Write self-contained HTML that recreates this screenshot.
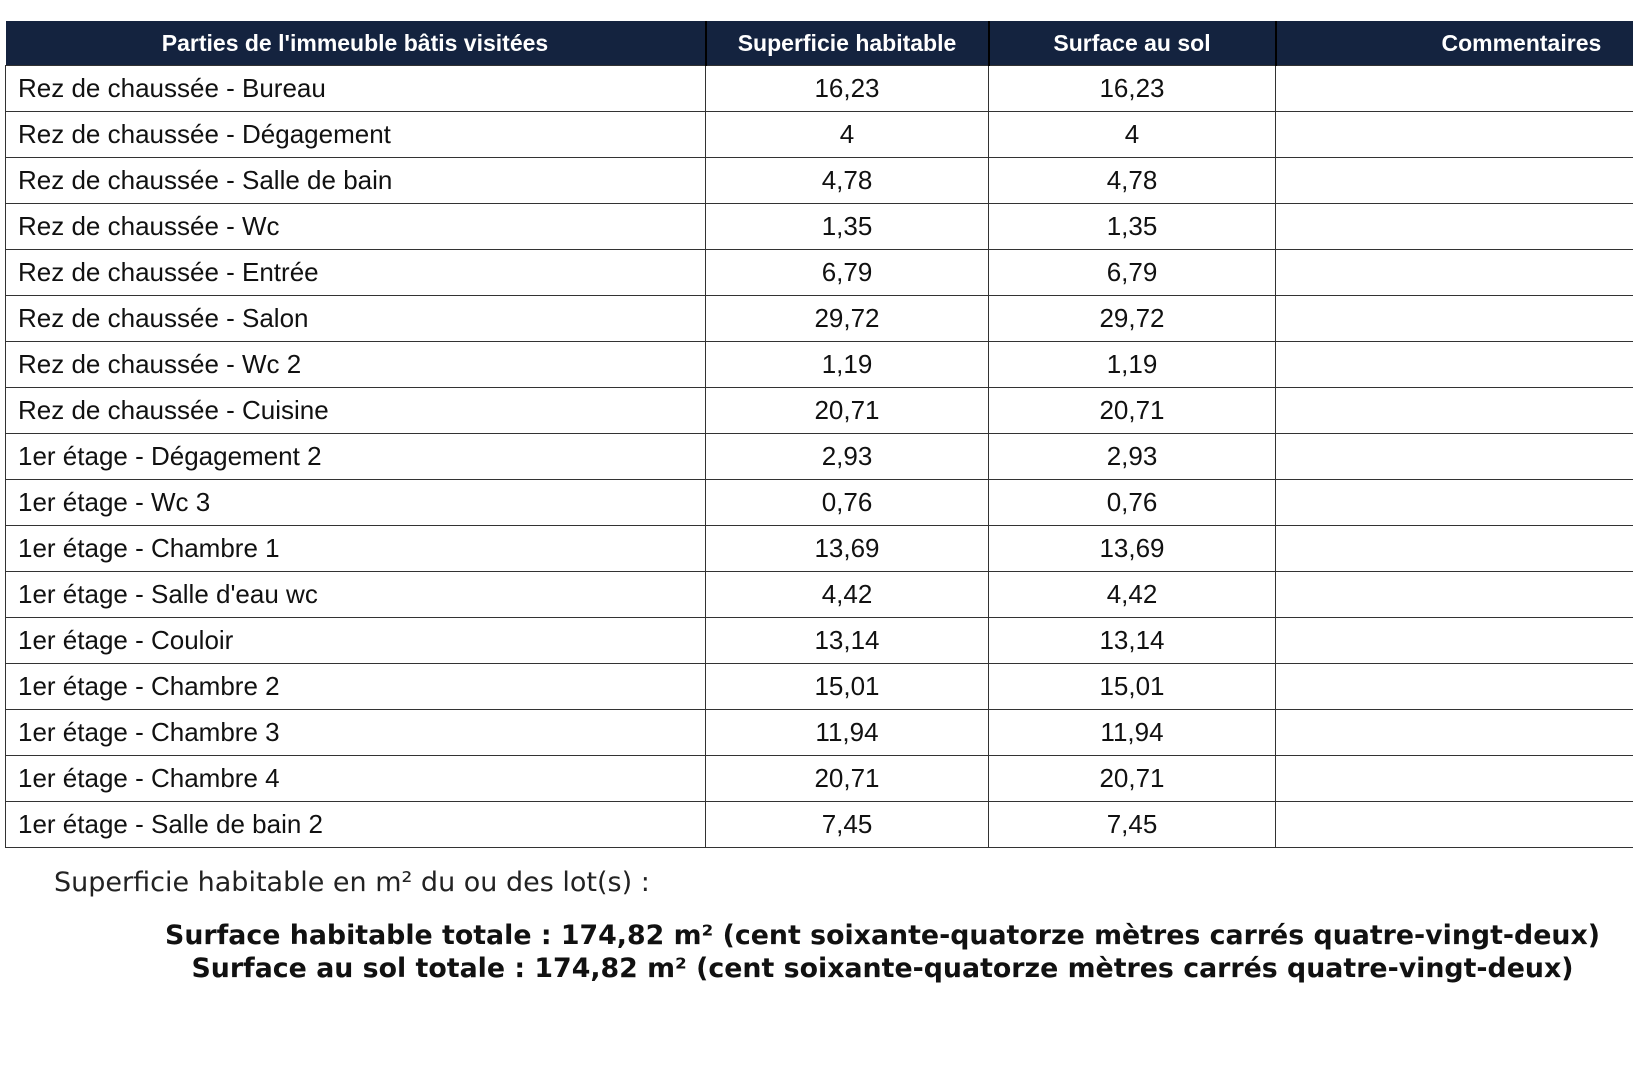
<!DOCTYPE html>
<html><head><meta charset="utf-8"><style>
body{margin:0;background:#fff;width:1633px;height:1080px;overflow:hidden;position:relative;font-family:"Liberation Sans",sans-serif;}
table{position:absolute;left:5px;top:21px;border-collapse:collapse;width:1700px;table-layout:fixed;}
th{background:#14233f;color:#fff;font-weight:bold;font-size:23px;height:44px;padding:0;border-right:2px solid #000;}
td{border:1.5px solid #333;height:45px;padding:0;font-size:26px;color:#111;}
td.l{padding-left:12px;}
td.c{text-align:center;}
.t1{position:absolute;left:54px;top:867px;font-family:"DejaVu Sans",sans-serif;font-size:27px;color:#222;}
.b{position:absolute;left:66px;width:1633px;text-align:center;font-family:"DejaVu Sans",sans-serif;font-weight:bold;font-size:26.8px;color:#111;}
</style></head><body>
<table>
<colgroup><col style="width:700px"><col style="width:283px"><col style="width:287px"><col style="width:430px"></colgroup>
<tr><th>Parties de l'immeuble bâtis visitées</th><th>Superficie habitable</th><th>Surface au sol</th><th style="text-align:left;padding-left:165px">Commentaires</th></tr>
<tr><td class="l">Rez de chaussée - Bureau</td><td class="c">16,23</td><td class="c">16,23</td><td></td></tr>
<tr><td class="l">Rez de chaussée - Dégagement</td><td class="c">4</td><td class="c">4</td><td></td></tr>
<tr><td class="l">Rez de chaussée - Salle de bain</td><td class="c">4,78</td><td class="c">4,78</td><td></td></tr>
<tr><td class="l">Rez de chaussée - Wc</td><td class="c">1,35</td><td class="c">1,35</td><td></td></tr>
<tr><td class="l">Rez de chaussée - Entrée</td><td class="c">6,79</td><td class="c">6,79</td><td></td></tr>
<tr><td class="l">Rez de chaussée - Salon</td><td class="c">29,72</td><td class="c">29,72</td><td></td></tr>
<tr><td class="l">Rez de chaussée - Wc 2</td><td class="c">1,19</td><td class="c">1,19</td><td></td></tr>
<tr><td class="l">Rez de chaussée - Cuisine</td><td class="c">20,71</td><td class="c">20,71</td><td></td></tr>
<tr><td class="l">1er étage - Dégagement 2</td><td class="c">2,93</td><td class="c">2,93</td><td></td></tr>
<tr><td class="l">1er étage - Wc 3</td><td class="c">0,76</td><td class="c">0,76</td><td></td></tr>
<tr><td class="l">1er étage - Chambre 1</td><td class="c">13,69</td><td class="c">13,69</td><td></td></tr>
<tr><td class="l">1er étage - Salle d'eau wc</td><td class="c">4,42</td><td class="c">4,42</td><td></td></tr>
<tr><td class="l">1er étage - Couloir</td><td class="c">13,14</td><td class="c">13,14</td><td></td></tr>
<tr><td class="l">1er étage - Chambre 2</td><td class="c">15,01</td><td class="c">15,01</td><td></td></tr>
<tr><td class="l">1er étage - Chambre 3</td><td class="c">11,94</td><td class="c">11,94</td><td></td></tr>
<tr><td class="l">1er étage - Chambre 4</td><td class="c">20,71</td><td class="c">20,71</td><td></td></tr>
<tr><td class="l">1er étage - Salle de bain 2</td><td class="c">7,45</td><td class="c">7,45</td><td></td></tr>
</table>
<div class="t1">Superficie habitable en m² du ou des lot(s) :</div>
<div class="b" style="top:920px">Surface habitable totale : 174,82 m² (cent soixante-quatorze mètres carrés quatre-vingt-deux)</div>
<div class="b" style="top:953px">Surface au sol totale : 174,82 m² (cent soixante-quatorze mètres carrés quatre-vingt-deux)</div>
</body></html>
